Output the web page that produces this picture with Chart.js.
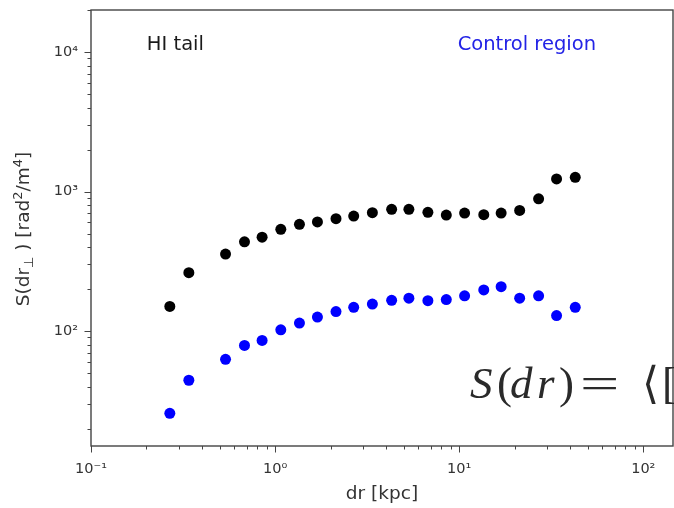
<!DOCTYPE html>
<html>
<head>
<meta charset="utf-8">
<script src="https://cdn.jsdelivr.net/npm/chart.js@4.4.0/dist/chart.umd.min.js"></script>
<style>
  html, body { margin: 0; padding: 0; background: #fff; }
  #wrap { width: 674px; height: 508px; position: relative; }
</style>
</head>
<body>
<div id="wrap"><canvas id="c" width="674" height="508"></canvas></div>
<script>
// Separation bins (kpc)
const dr = [0.268, 0.340, 0.538, 0.682, 0.850, 1.074, 1.356, 1.698, 2.142, 2.673, 3.376,
            4.296, 5.33, 6.76, 8.51, 10.7, 13.6, 16.9, 21.3, 27.0, 33.8, 42.7];
// Structure function along the HI tail (rad^2/m^4)
const tailS = [150, 262, 356, 436, 471, 536, 582, 605, 639, 667, 705,
               745, 745, 709, 678, 701, 683, 701, 732, 887, 1231, 1264];
// Structure function in the control region (rad^2/m^4)
const controlS = [25.7, 44.4, 62.7, 78.9, 85.6, 102, 114, 126, 138, 148, 156,
                  166, 172, 165, 168, 179, 197, 208, 172, 179, 129, 148];

// Axis ranges and labelled decades
const xRange = [0.1, 145];
const yRange = [15, 20000];
const xTicks = [0.1, 1, 10, 100];
const xTickLabels = ['10\u207B\u00B9', '10\u2070', '10\u00B9', '10\u00B2'];
const yTicks = [100, 1000, 10000];
const yTickLabels = ['10\u00B2', '10\u00B3', '10\u2074'];

const FONT = "'DejaVu Sans', sans-serif";
const TEXT = '#333';

function tickLabel(v, ticks, labels) {
  for (let i = 0; i < ticks.length; i++) {
    if (Math.abs(Math.log10(v) - Math.log10(ticks[i])) < 1e-6) return labels[i];
  }
  return '';
}

// Decade and sub-decade positions inside [lo, hi]
function logTickValues(lo, hi) {
  const out = [];
  for (let e = Math.floor(Math.log10(lo)); e <= Math.ceil(Math.log10(hi)); e++) {
    for (let k = 1; k <= 9; k++) {
      const v = k * Math.pow(10, e);
      if (v >= lo * 0.9999 && v <= hi * 1.0001) out.push({ v, major: k === 1 });
    }
  }
  return out;
}

// Frame, outward tick marks, y label, annotations
const frame = {
  id: 'frame',
  afterDraw(chart) {
    const { ctx, chartArea: a, scales: { x, y } } = chart;
    ctx.save();
    ctx.strokeStyle = '#444';
    ctx.lineWidth = 1.4;
    ctx.strokeRect(a.left, a.top, a.right - a.left, a.bottom - a.top);

    ctx.lineWidth = 1;
    ctx.beginPath();
    logTickValues(x.min, x.max).forEach(t => {
      const px = Math.round(x.getPixelForValue(t.v)) + 0.5;
      ctx.moveTo(px, a.bottom);
      ctx.lineTo(px, a.bottom + (t.major ? 6.5 : 3.5));
    });
    logTickValues(y.min, y.max).forEach(t => {
      const py = Math.round(y.getPixelForValue(t.v)) + 0.5;
      ctx.moveTo(a.left, py);
      ctx.lineTo(a.left - (t.major ? 6.5 : 3.5), py);
    });
    ctx.stroke();

    // y-axis title with subscript and superscripts
    const fs = 18.5;
    const parts = [
      { t: 'S(dr', s: 1, d: 0 },
      { t: '\u22A5', s: 0.7, d: 0.22 },
      { t: ' ) [rad', s: 1, d: 0 },
      { t: '2', s: 0.7, d: -0.38 },
      { t: '/m', s: 1, d: 0 },
      { t: '4', s: 0.7, d: -0.38 },
      { t: ']', s: 1, d: 0 }
    ];
    let total = 0;
    parts.forEach(p => {
      ctx.font = (fs * p.s) + 'px ' + FONT;
      p.w = ctx.measureText(p.t).width;
      total += p.w;
    });
    ctx.save();
    ctx.translate(22, (a.top + a.bottom) / 2 + 1);
    ctx.rotate(-Math.PI / 2);
    ctx.fillStyle = TEXT;
    ctx.textBaseline = 'alphabetic';
    ctx.textAlign = 'left';
    let cx = -total / 2;
    parts.forEach(p => {
      ctx.font = (fs * p.s) + 'px ' + FONT;
      ctx.fillText(p.t, cx, fs * 0.36 + p.d * fs);
      cx += p.w;
    });
    ctx.restore();

    // region labels
    const W = a.right - a.left, H = a.bottom - a.top;
    ctx.font = '19.5px ' + FONT;
    ctx.textBaseline = 'middle';
    ctx.textAlign = 'left';
    ctx.fillStyle = '#1a1a1a';
    ctx.fillText('HI tail', a.left + 0.096 * W, a.top + 0.08 * H);
    ctx.fillStyle = '#2323e6';
    ctx.fillText('Control region', a.left + 0.63 * W, a.top + 0.08 * H);

    // definition of the structure function
    const x0 = a.left + 0.651 * W;
    const base = a.top + 0.89 * H;
    const serif = "'Liberation Serif', 'DejaVu Serif', serif";
    ctx.fillStyle = '#2a2a2a';
    ctx.textBaseline = 'alphabetic';
    const glyphs = [
      { t: 'S', f: 'italic 45px ' + serif, dx: 0 },
      { t: '(', f: '45px ' + serif, dx: 27 },
      { t: 'd', f: 'italic 45px ' + serif, dx: 40 },
      { t: 'r', f: 'italic 45px ' + serif, dx: 67 },
      { t: ')', f: '45px ' + serif, dx: 89 },
      { t: '=', f: '45px ' + serif, dx: 110, sx: 1.55 },
      { t: '\u27E8', f: "44px 'DejaVu Serif', serif", dx: 172 },
      { t: '[', f: '45px ' + serif, dx: 192 }
    ];
    glyphs.forEach(g => {
      ctx.font = g.f;
      ctx.save();
      ctx.translate(x0 + g.dx, base);
      if (g.sx) ctx.scale(g.sx, 1);
      ctx.fillText(g.t, 0, 0);
      ctx.restore();
    });
    ctx.restore();
  }
};

new Chart(document.getElementById('c'), {
  type: 'scatter',
  data: {
    datasets: [
      {
        label: 'HI tail',
        data: dr.map((v, i) => ({ x: v, y: tailS[i] })),
        backgroundColor: '#000',
        borderWidth: 0,
        pointRadius: 5.5
      },
      {
        label: 'Control region',
        data: dr.map((v, i) => ({ x: v, y: controlS[i] })),
        backgroundColor: '#0000ff',
        borderWidth: 0,
        pointRadius: 5.5
      }
    ]
  },
  options: {
    responsive: false,
    devicePixelRatio: 1,
    animation: false,
    events: [],
    layout: { autoPadding: false, padding: { left: 0, top: 10, right: 1, bottom: 0 } },
    plugins: { legend: { display: false }, tooltip: { enabled: false } },
    scales: {
      x: {
        type: 'logarithmic',
        min: xRange[0],
        max: xRange[1],
        grid: { display: false, drawTicks: false },
        border: { display: false },
        ticks: {
          autoSkip: false,
          maxRotation: 0,
          padding: 15,
          color: TEXT,
          font: { family: FONT, size: 14.5 },
          callback: v => tickLabel(v, xTicks, xTickLabels)
        },
        title: {
          display: true,
          text: 'dr [kpc]',
          color: TEXT,
          font: { family: FONT, size: 18.5 },
          padding: { top: 0, bottom: 3 }
        },
        afterFit: s => {
          s.height = 62;
          s.paddingLeft = 0;
          s.paddingRight = 0;
        }
      },
      y: {
        type: 'logarithmic',
        min: yRange[0],
        max: yRange[1],
        grid: { display: false, drawTicks: false },
        border: { display: false },
        ticks: {
          autoSkip: false,
          padding: 13,
          color: TEXT,
          font: { family: FONT, size: 14.5 },
          callback: v => tickLabel(v, yTicks, yTickLabels)
        },
        afterFit: s => {
          s.width = 91;
          s.paddingTop = 0;
          s.paddingBottom = 0;
        }
      }
    }
  },
  plugins: [frame]
});
</script>
</body>
</html>
